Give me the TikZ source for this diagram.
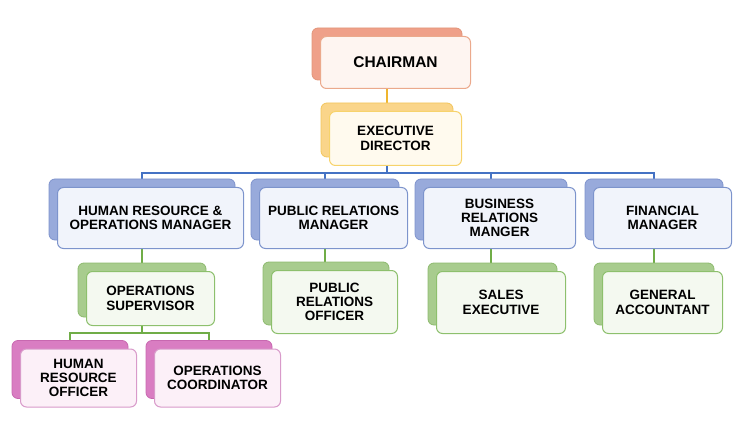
\documentclass[tikz,border=0pt]{standalone}
\usepackage{fontspec}
\setmainfont{Liberation Sans}
\usetikzlibrary{backgrounds}
\definecolor{orB}{HTML}{EFA089}\definecolor{orBd}{HTML}{E2957A}
\definecolor{orF}{HTML}{FEF5F1}\definecolor{orFd}{HTML}{EBA98C}
\definecolor{ylB}{HTML}{FAD58A}\definecolor{ylBd}{HTML}{F2C55C}
\definecolor{ylF}{HTML}{FFFAEE}\definecolor{ylFd}{HTML}{F7D36B}
\definecolor{blB}{HTML}{98AADB}\definecolor{blBd}{HTML}{7E93CC}
\definecolor{blF}{HTML}{F1F4FB}\definecolor{blFd}{HTML}{7D94CC}
\definecolor{grB}{HTML}{A8CC8E}\definecolor{grBd}{HTML}{8DBA6E}
\definecolor{grF}{HTML}{F4F9F0}\definecolor{grFd}{HTML}{8DC06D}
\definecolor{pkB}{HTML}{D97DC2}\definecolor{pkBd}{HTML}{C868B0}
\definecolor{pkF}{HTML}{FCF0F8}\definecolor{pkFd}{HTML}{D89ACA}
\definecolor{lnOr}{HTML}{EFB52E}\definecolor{lnBl}{HTML}{4472C4}\definecolor{lnGr}{HTML}{70AD47}
\tikzset{
  backbox/.style={rectangle, rounded corners=6pt, inner sep=0pt, line width=0.8pt},
  frontbox/.style={rectangle, rounded corners=6pt, inner sep=0pt, line width=1pt, align=center,
    font=\fontsize{13.5}{14.3}\selectfont\bfseries},
  conn/.style={line width=1.3pt},
}
% #1 name, #2 scheme, #3 cx, #4 cy, #5 w, #6 h, #7 text
\newcommand\orgbox[7]{%
  \node[backbox, fill=#2B, draw=#2Bd, minimum width=#5pt, minimum height=#6pt] (#1B) at (#3,#4) {};
  \node[frontbox, fill=#2F, draw=#2Fd, minimum width=#5pt, minimum height=#6pt] (#1) at ([shift={(8.5,8.5)}]#1B.center) {#7};
}
\begin{document}
\begin{tikzpicture}[x=1pt,y=-1pt]
\useasboundingbox (0,0) rectangle (746,430);
\orgbox{ch}{or}{387}{54}{150}{52}{\fontsize{15.5}{16}\selectfont CHAIRMAN}
\orgbox{ex}{yl}{387}{130}{132}{54}{EXECUTIVE\\DIRECTOR}
\orgbox{hr}{bl}{142}{209.5}{186}{61}{HUMAN RESOURCE \&\\OPERATIONS MANAGER}
\orgbox{pr}{bl}{325}{209.5}{148}{61}{PUBLIC RELATIONS\\MANAGER}
\orgbox{br}{bl}{491}{209.5}{152}{61}{BUSINESS\\RELATIONS\\MANGER}
\orgbox{fin}{bl}{654}{209.5}{138}{61}{FINANCIAL\\MANAGER}
\orgbox{sup}{gr}{142}{290}{128}{54}{OPERATIONS\\SUPERVISOR}
\orgbox{pro}{gr}{326}{293.5}{126}{63}{PUBLIC\\RELATIONS\\OFFICER}
\orgbox{sal}{gr}{492.5}{294}{129}{62}{SALES\\EXECUTIVE}
\orgbox{ga}{gr}{654}{294}{120}{62}{GENERAL\\ACCOUNTANT}
\orgbox{hro}{pk}{70}{369.5}{116}{58}{HUMAN\\RESOURCE\\OFFICER}
\orgbox{oc}{pk}{209}{369.5}{126}{58}{OPERATIONS\\COORDINATOR}
\coordinate (bar) at (0,173);
\coordinate (bar2) at (0,333);
\begin{scope}[on background layer]
  \draw[conn, lnOr] (chB.south) -- (exB.north);
  \draw[conn, lnBl] (exB.south) -- (exB.south |- bar);
  \draw[conn, lnBl] (hrB.north) -- (hrB.north |- bar) -- (finB.north |- bar) -- (finB.north);
  \draw[conn, lnBl] (prB.north) -- (prB.north |- bar);
  \draw[conn, lnBl] (brB.north) -- (brB.north |- bar);
  \draw[conn, lnGr] (hrB.south) -- (supB.north);
  \draw[conn, lnGr] (prB.south) -- (prB.south |- proB.north);
  \draw[conn, lnGr] (brB.south) -- (brB.south |- salB.north);
  \draw[conn, lnGr] (finB.south) -- (gaB.north);
  \draw[conn, lnGr] (supB.south) -- (supB.south |- bar2);
  \draw[conn, lnGr] (hroB.north) -- (hroB.north |- bar2) -- (ocB.north |- bar2) -- (ocB.north);
\end{scope}
\end{tikzpicture}
\end{document}
